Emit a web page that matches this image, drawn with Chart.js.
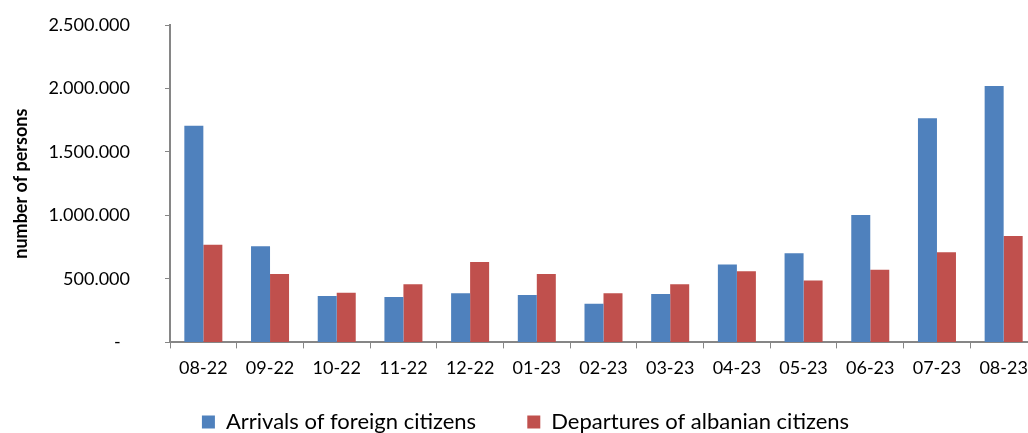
<!DOCTYPE html>
<html>
<head>
<meta charset="utf-8">
<script src="https://cdn.jsdelivr.net/npm/chart.js@4"></script>
<style>
  html, body { margin: 0; padding: 0; background: #fff; overflow: hidden; }
  #wrap { position: absolute; left: 0; top: 0; width: 1050px; height: 443px; }
</style>
</head>
<body>
<div id="wrap"><canvas id="chart"></canvas></div>
<script>
// monthly persons
const months = ['08-22','09-22','10-22','11-22','12-22','01-23','02-23','03-23','04-23','05-23','06-23','07-23','08-23'];
const arrivals = [1706000, 758000, 365000, 357000, 388000, 373000, 304000, 381000, 613000, 703000, 1004000, 1766000, 2020000];
const departures = [770000, 538000, 391000, 459000, 634000, 538000, 388000, 459000, 561000, 487000, 572000, 711000, 839000];
const yTicks = [0, 500000, 1000000, 1500000, 2000000, 2500000];

const FONT = 'Lato, "Open Sans", sans-serif';
const axisGrey = '#868686';
const padLeft = 14;

// excel style: thousands with dots, zero shown as a dash
const fmt = (v) => v === 0 ? '-  ' : String(v).replace(/\B(?=(\d{3})+(?!\d))/g, '.');

new Chart(document.getElementById('chart').getContext('2d'), {
  type: 'bar',
  data: {
    labels: months,
    datasets: [
      { label: 'Arrivals of foreign citizens', data: arrivals, backgroundColor: '#4F81BD', borderWidth: 0 },
      { label: 'Departures of albanian citizens', data: departures, backgroundColor: '#C0504D', borderWidth: 0 }
    ]
  },
  options: {
    animation: false,
    responsive: true,
    maintainAspectRatio: false,
    datasets: { bar: { categoryPercentage: 0.57, barPercentage: 1.0 } },
    layout: { padding: { top: 25, right: 13, left: padLeft, bottom: 0 } },
    scales: {
      x: {
        grid: { display: true, drawOnChartArea: false, drawTicks: true, tickLength: 6, color: axisGrey, offset: true },
        border: { display: true, color: axisGrey, width: 2 },
        ticks: { color: '#000', font: { family: FONT, size: 18 }, padding: 9, maxRotation: 0, autoSkip: false }
      },
      y: {
        min: 0, max: 2500000,
        afterBuildTicks: (s) => { s.ticks = yTicks.map(v => ({ value: v })); },
        grid: { display: true, drawOnChartArea: false, drawTicks: true, tickLength: 5, color: axisGrey },
        border: { display: true, color: axisGrey, width: 2 },
        ticks: { color: '#000', font: { family: FONT, size: 18 }, padding: 35, callback: fmt },
        title: { display: true, text: 'number of persons', color: '#000', font: { family: FONT, size: 18, weight: 'bold' }, padding: { top: -4, bottom: 0 } },
        // fixed axis width; don't let the label padding push the plot down
        afterFit: (s) => { s.width = 170 - padLeft; s.paddingTop = 11; s.paddingBottom = 11; }
      }
    },
    plugins: {
      legend: {
        position: 'bottom',
        labels: {
          boxWidth: 13, boxHeight: 13, padding: 23, color: '#000', font: { family: FONT, size: 22 },
          generateLabels: (chart) => Chart.defaults.plugins.legend.labels.generateLabels(chart)
            .map((it, i) => Object.assign(it, { text: i === 0 ? it.text + '     ' : it.text, lineWidth: 0 }))
        }
      },
      tooltip: { enabled: false }
    }
  }
});
</script>
</body>
</html>
